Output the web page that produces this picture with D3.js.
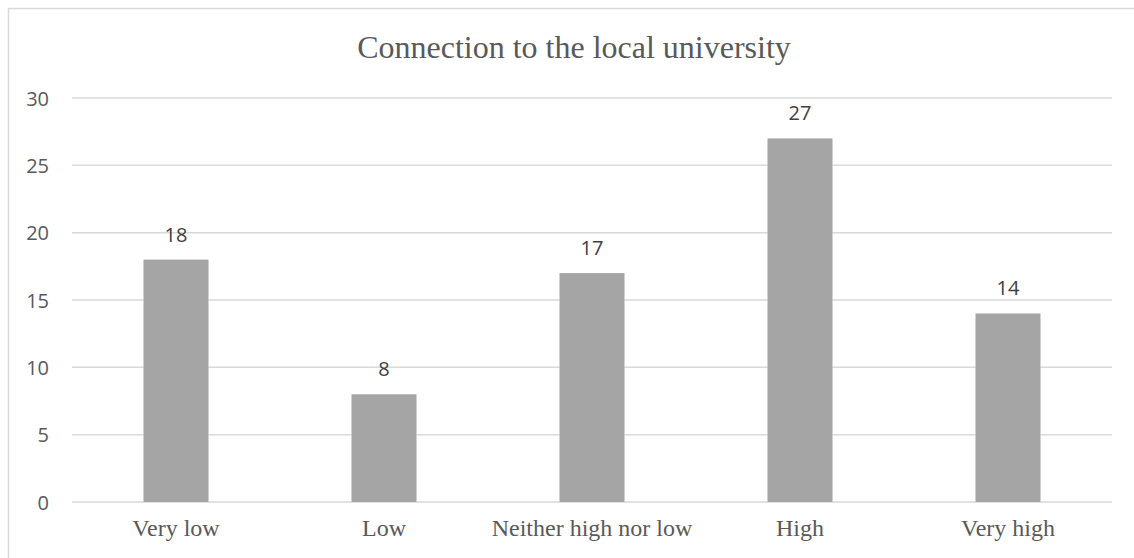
<!DOCTYPE html>
<html>
<head>
<meta charset="utf-8">
<script src="https://cdn.jsdelivr.net/npm/d3@7"></script>
<style>
  html, body { margin: 0; padding: 0; background: #fff; }
  svg { display: block; }
</style>
</head>
<body>
<svg id="chart" width="1134" height="558"></svg>
<script>
// Survey responses: connection to the local university
const categories = ["Very low", "Low", "Neither high nor low", "High", "Very high"];
const counts = [18, 8, 17, 27, 14];
const yTicks = [0, 5, 10, 15, 20, 25, 30];
const chartTitle = "Connection to the local university";

const svg = d3.select("#chart");
const plot = { left: 72, right: 1112, top: 98, bottom: 502 };

// chart frame (runs past the right and bottom edges)
svg.append("rect")
  .attr("x", 8.5).attr("y", 8.5)
  .attr("width", 1300).attr("height", 700)
  .attr("fill", "#fff")
  .attr("stroke", "#d9d9d9").attr("stroke-width", 1.5);

const x = d3.scaleBand()
  .domain(categories)
  .range([plot.left, plot.right])
  .paddingInner(0.6875).paddingOuter(0.34375);

const y = d3.scaleLinear().domain([0, 30]).range([plot.bottom, plot.top]);

// horizontal gridlines
svg.append("g")
  .selectAll("line")
  .data(yTicks)
  .join("line")
  .attr("x1", plot.left).attr("x2", plot.right)
  .attr("y1", d => y(d)).attr("y2", d => y(d))
  .attr("stroke", "#d9d9d9").attr("stroke-width", 1.5);

// y axis labels
const yAxis = d3.axisLeft(y).tickValues(yTicks).tickSize(0).tickPadding(0);
const yg = svg.append("g").attr("transform", `translate(49,0)`).call(yAxis);
yg.select(".domain").remove();
yg.selectAll("text")
  .attr("font-family", "'Open Sans', sans-serif")
  .attr("font-size", 20)
  .attr("fill", "#595959")
  .attr("dy", "0.36em");

// bars
svg.append("g")
  .selectAll("rect")
  .data(counts)
  .join("rect")
  .attr("x", (d, i) => x(categories[i]))
  .attr("width", x.bandwidth())
  .attr("y", d => y(d))
  .attr("height", d => y(0) - y(d))
  .attr("fill", "#a5a5a5");

// value labels above bars
svg.append("g")
  .selectAll("text")
  .data(counts)
  .join("text")
  .attr("x", (d, i) => x(categories[i]) + x.bandwidth() / 2)
  .attr("y", d => y(d) - 18)
  .attr("text-anchor", "middle")
  .attr("font-family", "'Open Sans', sans-serif")
  .attr("font-size", 20)
  .attr("fill", "#404040")
  .text(d => d);

// category labels
const xAxis = d3.axisBottom(x).tickSize(0).tickPadding(0);
const xg = svg.append("g").attr("transform", `translate(0,536)`).call(xAxis);
xg.select(".domain").remove();
xg.selectAll("text")
  .attr("font-family", "'Liberation Serif', 'Times New Roman', serif")
  .attr("font-size", 24)
  .attr("fill", "#595959")
  .attr("dy", 0);

// title
svg.append("text")
  .attr("x", 574).attr("y", 58)
  .attr("text-anchor", "middle")
  .attr("font-family", "'Liberation Serif', 'Times New Roman', serif")
  .attr("font-size", 32)
  .attr("fill", "#595959")
  .text(chartTitle);
</script>
</body>
</html>
